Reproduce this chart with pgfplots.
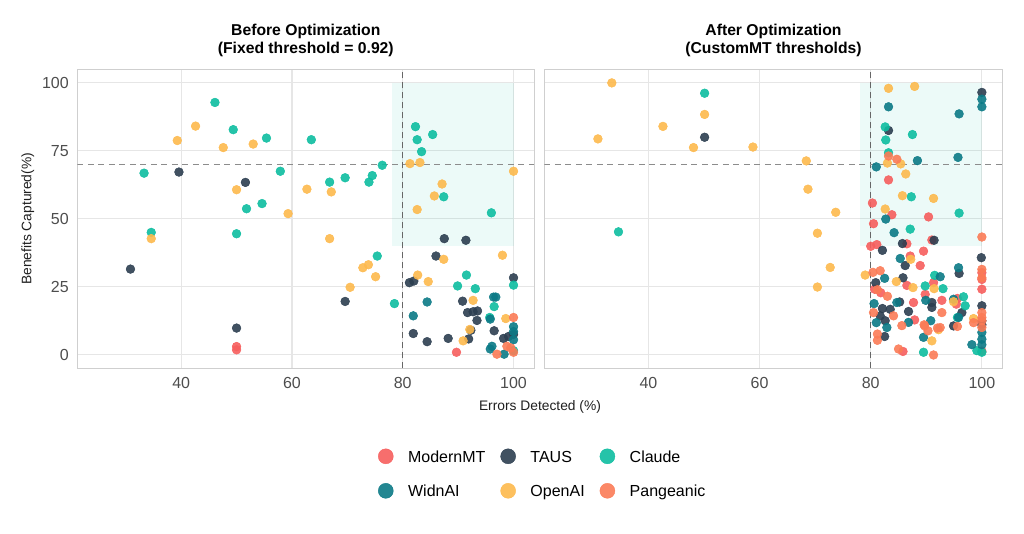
\documentclass[border=0pt]{standalone}
\usepackage{fontspec}
\setmainfont{Liberation Sans}
\usepackage{pgfplots}
\pgfplotsset{compat=1.18}

\definecolor{cModern}{HTML}{F65E5D}
\definecolor{cTAUS}{HTML}{2C3E50}
\definecolor{cClaude}{HTML}{0DBDA0}
\definecolor{cWidn}{HTML}{0B7A86}
\definecolor{cOpenAI}{HTML}{FDB94D}
\definecolor{cPange}{HTML}{FB7B56}
\definecolor{gridc}{HTML}{E6E6E6}
\definecolor{borderc}{HTML}{CFCFCF}
\definecolor{tickc}{HTML}{4D4D4D}
\definecolor{labelc}{HTML}{1F1F1F}

\pgfplotsset{
  panel/.style={
    scale only axis, height=299pt,
    xmin=21.25, xmax=103.75, ymin=-5, ymax=105,
    xtick={40,60,80,100}, ytick={0,25,50,75,100},
    grid=major, major grid style={draw=gridc, line width=1.1pt},
    major tick length=0pt,
    axis line style={draw=borderc, line width=0.9pt},
    /pgf/number format/assume math mode=true,
    tick label style={font=\fontsize{16}{19}\selectfont, text=tickc},
    xticklabel style={yshift=-5.5pt},
    yticklabel style={xshift=-5pt},
    title style={font=\bfseries\fontsize{15.7}{18}\selectfont, align=center,
      at={(0.5,1)}, anchor=south, inner sep=0pt, yshift=6pt},
  },
  pt/.style={only marks, mark=*, mark size=4.4pt, color=#1,
    mark options={draw=none, fill=#1, fill opacity=0.9}},
  zone/.style={draw=none, fill=cClaude, fill opacity=0.08, forget plot},
  vline/.style={draw=black!60, line width=1.2pt, dash pattern=on 6pt off 4pt, forget plot},
  hline/.style={draw=black!45, line width=1.2pt, dash pattern=on 6pt off 4.5pt, forget plot},
}

\begin{document}
\begin{tikzpicture}
\useasboundingbox (0pt,0pt) rectangle (1024pt,-533pt);

% before optimization
\begin{axis}[panel, width=457pt, at={(77.3pt,-69.3pt)}, anchor=north west,
  title={Before Optimization\\(Fixed threshold = 0.92)},
  ylabel={Benefits Captured(\%)},
  every axis y label/.style={at={(axis description cs:-0.1085,0.5)}, rotate=90, anchor=center,
    font=\fontsize{13.8}{16}\selectfont, text=labelc},
  legend columns=3, legend cell align=left,
  legend image code/.code={\draw[#1, mark size=7.5pt, fill opacity=1] plot coordinates {(0pt,0pt)};},
  legend style={draw=none, fill=none, at={(1.0186,-0.352)}, anchor=center,
    font=\fontsize{16}{19}\selectfont, row sep=19pt,
    nodes={inner sep=2pt, text height=11.5pt, text depth=0pt},
    /tikz/every odd column/.append style={column sep=12.8pt},
    /tikz/every even column/.append style={column sep=13.2pt}},
]
\addplot[zone] coordinates {(78,40)(100,40)(100,100)(78,100)} -- cycle;
\addplot[vline] coordinates {(80,-5)(80,105)};
\addplot[hline] coordinates {(21.25,70)(103.75,70)};

\addplot[pt=cModern] coordinates {(50.0,3.0)(50.0,1.8)(89.7,0.9)};
\addlegendentry{ModernMT}
\addplot[pt=cTAUS] coordinates {
(30.85,31.5)(39.6,67.2)(51.6,63.4)(50.0,9.8)(69.6,19.6)(86.0,36.3)(87.5,42.7)
(91.4,42.1)(81.2,26.5)(82.0,27.1)(100,28.3)(90.8,19.7)(91.7,15.5)(92.7,15.8)
(93.5,16.1)(93.4,12.6)(92.3,9.0)(91.9,5.8)(88.2,6.0)(81.9,7.8)(84.4,4.8)
(96.5,8.8)(98.2,6.0)(99.1,6.7)(100,7.5)};
\addlegendentry{TAUS}
\addplot[pt=cClaude] coordinates {
(46.1,92.8)(49.4,82.8)(55.4,79.7)(63.5,79.1)(33.3,66.8)(57.9,67.5)(66.8,63.5)
(69.6,65.1)(73.9,63.5)(74.5,65.9)(76.3,69.7)(51.8,53.7)(54.6,55.6)(34.6,45.0)
(50.0,44.5)(82.3,83.9)(82.6,79.1)(85.4,81.0)(83.4,74.7)(87.4,58.1)(96.0,52.2)
(75.4,36.3)(78.5,18.8)(91.5,29.3)(89.9,25.3)(93.1,24.3)(100,25.6)(96.5,17.7)
(95.7,13.7)(100,1.5)};
\addlegendentry{Claude}
\addplot[pt=cWidn] coordinates {
(84.4,19.4)(96.4,21.2)(96.8,21.2)(81.9,14.3)(95.8,13.1)(100,10.3)(100,8.5)
(100,5.5)(95.8,2.1)(96.1,3.1)(98.3,0.2)};
\addlegendentry{WidnAI}
\addplot[pt=cOpenAI] coordinates {
(42.6,84.1)(39.3,78.8)(47.6,76.2)(53.0,77.5)(50.0,60.7)(62.7,60.9)(67.1,59.9)
(59.3,51.9)(34.6,42.7)(66.8,42.7)(81.3,70.3)(83.1,70.7)(87.1,62.8)(85.7,58.4)
(82.6,53.4)(100,67.5)(98.0,36.6)(87.4,35.1)(72.8,32.0)(73.8,33.1)(75.1,28.7)
(70.5,24.8)(82.7,29.3)(84.6,26.9)(92.7,20.0)(98.6,13.3)(90.9,5.1)(92.1,9.3)};
\addlegendentry{OpenAI}
\addplot[pt=cPange] coordinates {(100,13.7)(97.0,0.2)(98.8,3.1)(100,0.9)(99.5,2.5)};
\addlegendentry{Pangeanic}
\end{axis}

% after optimization
\begin{axis}[panel, width=458.4pt, at={(544.3pt,-69.3pt)}, anchor=north west,
  title={After Optimization\\(CustomMT thresholds)},
  yticklabels={},
]
\addplot[zone] coordinates {(78,40)(100,40)(100,100)(78,100)} -- cycle;
\addplot[vline] coordinates {(80,-5)(80,105)};
\addplot[hline] coordinates {(21.25,70)(103.75,70)};

\addplot[pt=cModern] coordinates {
(83.2,64.3)(80.3,55.8)(80.5,48.2)(83.8,51.5)(90.4,50.7)(80.0,39.9)(81.1,40.5)
(86.5,40.8)(89.5,38.1)(91.0,42.2)(87.1,36.3)(88.9,32.8)(91.3,26.5)(86.5,25.5)
(80.7,24.1)(81.8,22.8)(87.7,19.2)(92.8,20.0)(100,24.1)(100,27.7)(100,1.3)
(85.8,1.2)(87.9,12.8)(95.6,20.7)(95.4,18.6)(100,30.2)(89.8,22.2)};
\addplot[pt=cTAUS] coordinates {
(100,96.5)(50.1,80.0)(83.2,82.5)(85.7,40.9)(91.4,42.1)(82.1,38.4)(86.2,32.8)
(85.8,28.3)(80.9,26.5)(95.9,29.9)(99.9,35.7)(100,18.0)(82.1,17.0)(83.5,16.7)
(85.2,19.4)(86.8,15.9)(91.0,19.2)(91.0,17.4)(81.7,14.3)(82.6,12.5)(82.5,6.7)
(94.9,10.6)(96.4,15.5)(100,11.0)(100,12.5)};
\addplot[pt=cClaude] coordinates {
(50.1,96.2)(34.6,45.2)(82.6,83.8)(82.7,79.0)(87.5,81.0)(83.2,74.3)(87.3,58.1)
(95.9,52.1)(87.1,46.2)(91.5,29.2)(89.8,25.3)(93.0,24.3)(96.7,21.3)(97.0,18.0)
(95.6,13.7)(89.5,0.9)(100,0.9)(99.1,1.5)};
\addplot[pt=cWidn] coordinates {
(83.2,91.2)(95.9,88.6)(100,94.0)(100,91.2)(88.4,71.4)(95.7,72.6)(81.0,69.1)
(82.7,49.9)(84.2,44.9)(85.3,35.4)(95.8,32.0)(82.5,28.1)(89.9,20.0)(80.6,18.8)
(81.0,11.8)(82.9,10.0)(86.8,11.9)(89.5,6.4)(90.8,12.5)(92.5,28.7)(84.7,19.2)
(98.2,3.7)(100,8.2)(100,5.7)(100,3.7)(95.8,13.7)(94.9,20.4)};
\addplot[pt=cOpenAI] coordinates {
(33.4,100.0)(30.9,79.4)(42.6,84.0)(50.1,88.4)(48.1,76.2)(58.8,76.4)(68.4,71.3)
(68.7,60.9)(73.7,52.4)(70.4,44.7)(72.7,32.1)(70.4,24.9)(83.2,98.0)(87.9,98.7)
(83.0,70.5)(85.4,70.2)(86.3,66.5)(85.7,58.5)(91.3,57.5)(82.6,53.6)(87.2,35.1)
(79.0,29.3)(84.6,26.9)(87.6,24.7)(91.4,24.3)(94.9,19.5)(91.0,5.1)(98.5,13.3)
(92.2,9.2)};
\addplot[pt=cPange] coordinates {
(83.2,73.1)(84.7,71.9)(100,43.3)(80.4,30.3)(81.7,30.9)(81.2,23.9)(83.0,21.5)
(80.5,15.5)(81.2,7.6)(81.2,5.3)(84.1,14.3)(85.6,10.7)(85.0,2.1)(89.6,11.0)
(91.3,-0.1)(92.8,15.5)(92.5,10.0)(98.5,11.8)(100,15.5)(100,31.4)(100,10.0)
(100,28.3)(89.7,10.6)(90.3,8.8)(92.0,9.8)(95.6,10.4)(100,13.7)(100,12.5)};
\end{axis}

\node[font=\fontsize{13.8}{16}\selectfont, text=labelc] at (540pt,-406.5pt) {Errors Detected (\%)};
\end{tikzpicture}
\end{document}
